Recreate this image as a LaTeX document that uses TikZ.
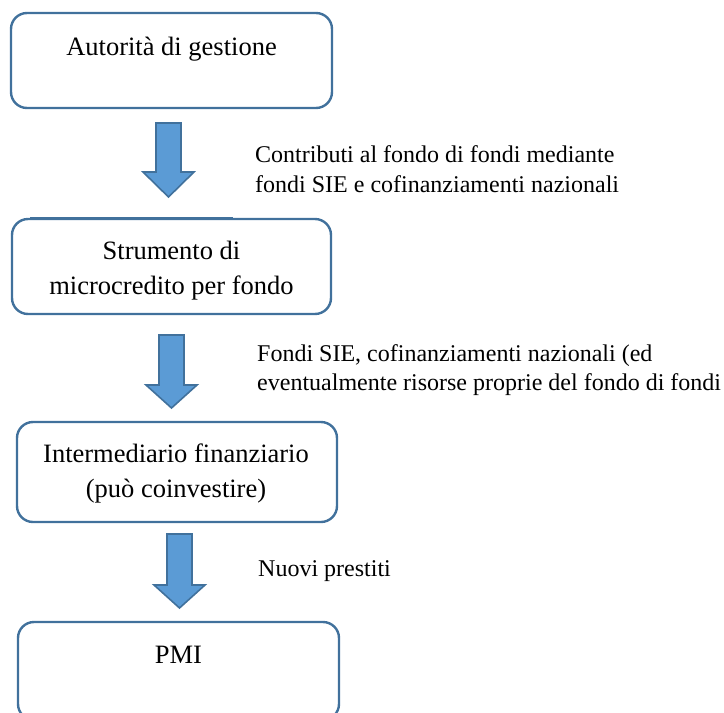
\documentclass[tikz,border=0pt]{standalone}
\usepackage{fontspec}
\setmainfont{Liberation Serif}
\begin{document}
\begin{tikzpicture}[x=1pt,y=-1pt,
  boxline/.style={draw=boxblue,line width=2.4pt,rounded corners=16pt},
  stage/.style={boxline,rectangle,inner sep=0pt},
  boxtext/.style={font=\fontsize{26.5}{34}\selectfont,anchor=base,inner sep=0pt},
  sidetext/.style={font=\fontsize{24}{29}\selectfont,anchor=base west,inner sep=0pt},
  flow/.style={fill=arrowblue,draw=boxblue,line width=1.6pt,line join=miter}]
\definecolor{boxblue}{HTML}{41719C}
\definecolor{arrowblue}{HTML}{5B9BD5}
\useasboundingbox (0,0) rectangle (724,713);
\clip (0,0) rectangle (724,713);

% stages of the flow
\node[stage,minimum width=321pt,minimum height=95pt] (ag) at (171.5,60.5) {};
\node[stage,minimum width=319pt,minimum height=95pt] (sm) at (171.5,266.5) {};
\node[stage,minimum width=320pt,minimum height=100pt] (if) at (177,472) {};
\node[stage,minimum width=321pt,minimum height=98pt] (pmi) at (178.5,671) {};
\draw[boxblue,line width=1.6pt] (30,218) -- (233,218);

\node[boxtext] (agt) at (171.5,55) {Autorità di gestione};
\node[boxtext] (smt1) at (171.5,259) {Strumento di};
\node[boxtext] (smt2) at (171.5,294) {microcredito per fondo};
\node[boxtext] (ift1) at (176,462) {Intermediario finanziario};
\node[boxtext] (ift2) at (176,497) {(può coinvestire)};
\node[boxtext] (pmit) at (178.5,663) {PMI};

% block arrows between the stages
\newcommand\downblock[4]{% centre x, top, start of head, tip
  \draw[flow] (#1-12.5,#2) -- (#1+12.5,#2) -- (#1+12.5,#3) -- (#1+25.5,#3)
    -- (#1,#4) -- (#1-25.5,#3) -- (#1-12.5,#3) -- cycle;}
\downblock{168.5}{123}{172}{197}
\downblock{171.5}{335}{385}{408}
\downblock{179.5}{534}{585}{608}

% flow descriptions
\node[sidetext] (c1a) at (255,162) {Contributi al fondo di fondi mediante};
\node[sidetext] (c1b) at (255,192) {fondi SIE e cofinanziamenti nazionali};
\node[sidetext] (c2a) at (257,361) {Fondi SIE, cofinanziamenti nazionali (ed};
\node[sidetext] (c2b) at (257,390) {eventualmente risorse proprie del fondo di fondi};
\node[sidetext] (c3) at (258,576) {Nuovi prestiti};
\end{tikzpicture}
\end{document}
